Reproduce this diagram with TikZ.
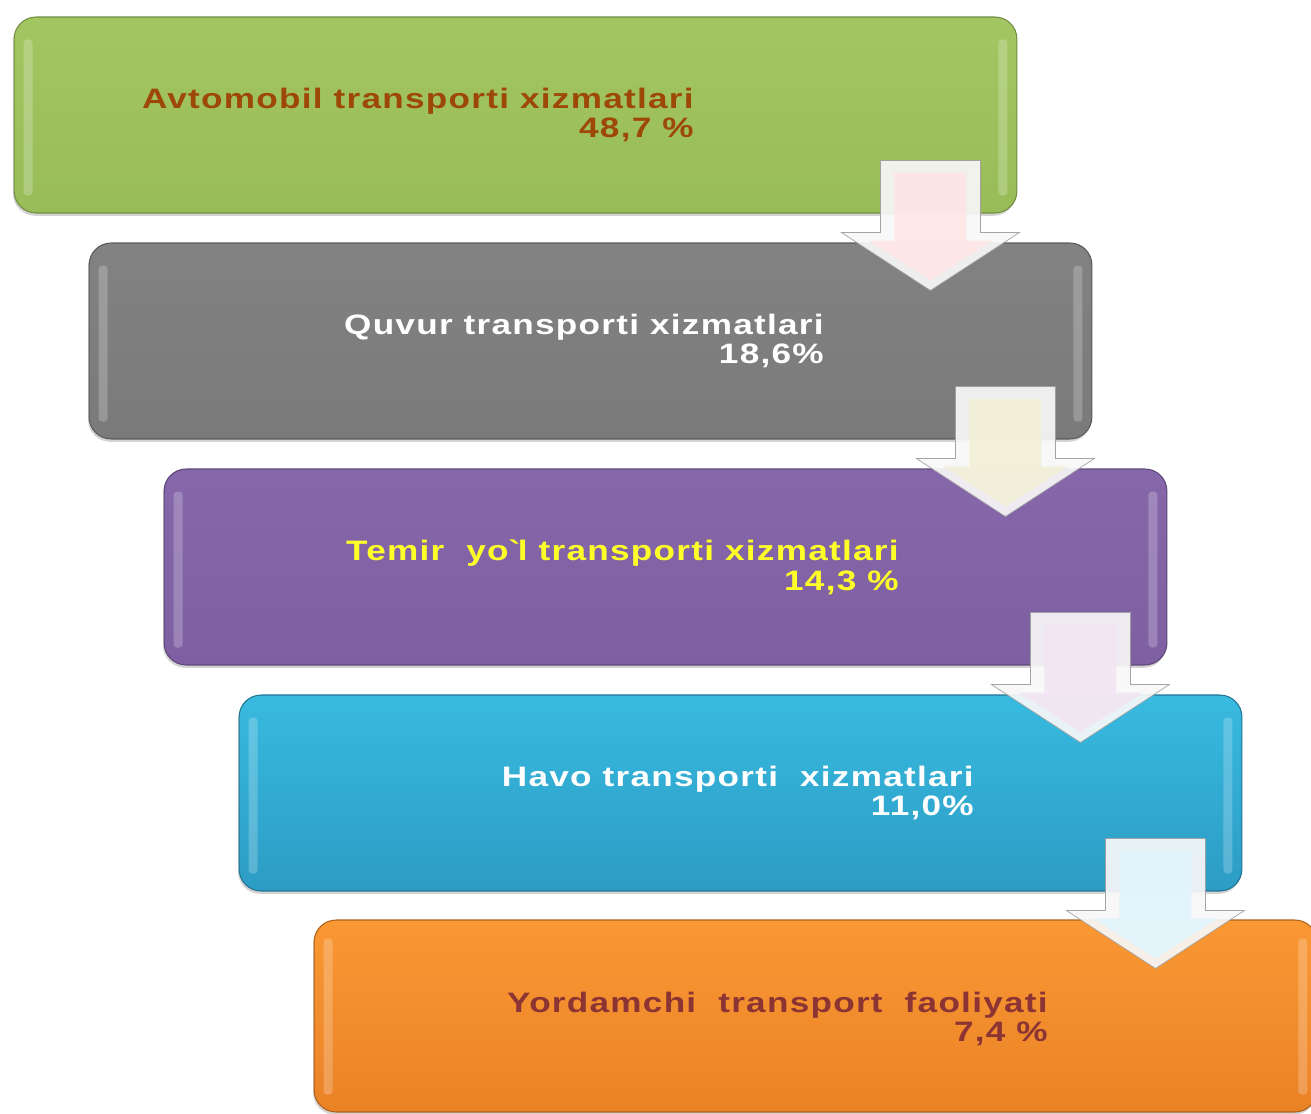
\documentclass[tikz,border=0pt]{standalone}
\usepackage{fontspec}
\usepackage{xcolor}
\usetikzlibrary{shadows}
\newfontfamily\boxfont{Liberation Sans}[FakeStretch=1.25,LetterSpace=4.5]

\definecolor{avtogreen}{RGB}{164,198,98}
\definecolor{avtogreendark}{RGB}{152,188,88}
\definecolor{avtotext}{RGB}{158,72,8}
\definecolor{quvurgray}{RGB}{130,130,130}
\definecolor{quvurgraydark}{RGB}{122,122,122}
\definecolor{temirpurple}{RGB}{134,104,170}
\definecolor{temirpurpledark}{RGB}{126,96,162}
\definecolor{temirtext}{RGB}{255,255,40}
\definecolor{havoblue}{RGB}{56,186,224}
\definecolor{havobluedark}{RGB}{44,156,196}
\definecolor{yordamorange}{RGB}{250,152,52}
\definecolor{yordamorangedark}{RGB}{234,130,38}
\definecolor{yordamtext}{RGB}{140,52,52}

\newcommand\downarrowblock[3]{%
  \filldraw[#3, draw=gray!75, line width=0.4pt, opacity=0.93]
    (#1) ++(-50,0) -- ++(100,0) -- ++(0,-72) -- ++(39,0) -- ++(-89,-58)
    -- ++(-89,58) -- ++(39,0) -- cycle;
  \fill[#2, opacity=0.85]
    (#1) ++(-36,-12) -- ++(72,0) -- ++(0,-68) -- ++(26,0) -- ++(-62,-40)
    -- ++(-62,40) -- ++(26,0) -- cycle;
}

\tikzset{
  stage/.style={rounded corners=0.44cm, minimum width=20.06cm,
    minimum height=3.92cm, line width=0.6pt,
    drop shadow={shadow xshift=-0.6pt, shadow yshift=-1.6pt, opacity=0.35}},
  stagetext/.style={anchor=east, align=right, inner sep=0pt,
    font=\boxfont\bfseries\fontsize{16}{17}\selectfont},
  glow/.style={white, opacity=0.22, rounded corners=2pt}
}

\begin{document}
\begin{tikzpicture}[x=0.02cm, y=0.02cm]
  \useasboundingbox (0,0) rectangle (1311,1113);

  \node[stage, top color=avtogreen, bottom color=avtogreendark, draw=avtogreendark!75!black] (b1) at (515.5,998) {};
  \node[stage, top color=quvurgray, bottom color=quvurgraydark, draw=quvurgraydark!75!black] (b2) at (590.5,772) {};
  \node[stage, top color=temirpurple, bottom color=temirpurpledark, draw=temirpurpledark!75!black] (b3) at (665.5,546) {};
  \node[stage, top color=havoblue, bottom color=havobluedark, draw=havobluedark!75!black] (b4) at (740.5,320) {};
  \node[stage, minimum height=3.84cm, top color=yordamorange, bottom color=yordamorangedark, draw=yordamorangedark!75!black] (b5) at (815.5,97) {};

  % light edges inside the boxes
  \foreach \b in {b1,b2,b3,b4,b5} {
    \fill[glow] (\b.south west) ++(10,18) rectangle ++(9,156);
    \fill[glow] (\b.south east) ++(-19,18) rectangle ++(9,156);
  }

  \node[stagetext, text=avtotext] (t1) at (694,998) {Avtomobil transporti xizmatlari\\48,7 \%};
  \node[stagetext, text=white] (t2) at (824,772) {Quvur transporti xizmatlari\\18,6\%};
  \node[stagetext, text=temirtext] (t3) at (899,546) {Temir\ \ yo\textasciigrave l transporti xizmatlari\\14,3 \%};
  \node[stagetext, text=white] (t4) at (974,320) {Havo transporti\ \ xizmatlari\\11,0\%};
  \node[stagetext, text=yordamtext] (t5) at (1048,94) {Yordamchi\ \ transport\ \ faoliyati\\7,4 \%};

  \path (b1.south east) ++(-87,53) coordinate (a1)
        (b2.south east) ++(-87,53) coordinate (a2)
        (b3.south east) ++(-87,53) coordinate (a3)
        (b4.south east) ++(-87,53) coordinate (a4);

  \downarrowblock{a1}{red!10!white}{gray!6!white}
  \downarrowblock{a2}{olive!12!white}{gray!6!white}
  \downarrowblock{a3}{violet!10!white}{gray!6!white}
  \downarrowblock{a4}{cyan!12!white}{gray!6!white}
\end{tikzpicture}
\end{document}
